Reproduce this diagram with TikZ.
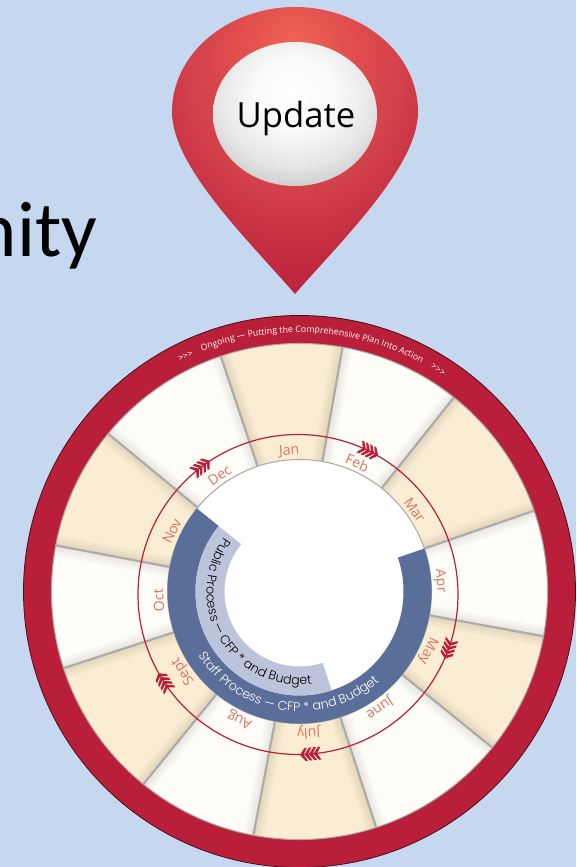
\documentclass[tikz,border=0pt]{standalone}
\usepackage{fontspec}
\setmainfont{Open Sans}
\setsansfont{Poppins Light}
\newfontfamily\titlefont{Carlito}
\usetikzlibrary{calc,decorations.text}

\definecolor{PageBlue}{HTML}{C5D8F0}
\definecolor{RingRed}{HTML}{BA1F3A}
\definecolor{CreamFill}{HTML}{FBEDD3}
\definecolor{PaperFill}{HTML}{FFFDF7}
\definecolor{EdgeGray}{HTML}{ACABA8}
\definecolor{MonthRed}{HTML}{DB7264}
\definecolor{StaffBlue}{HTML}{5A6E9A}
\definecolor{PublicBlue}{HTML}{BCC4DC}
\definecolor{PinA}{HTML}{F06453}
\definecolor{PinB}{HTML}{E2504E}
\definecolor{PinC}{HTML}{D2404A}
\definecolor{PinD}{HTML}{C22A40}
\definecolor{PinE}{HTML}{B81C3A}
\definecolor{BallA}{HTML}{FFFFFF}
\definecolor{BallB}{HTML}{FBFBFB}
\definecolor{BallC}{HTML}{E6E6E6}
\definecolor{BallD}{HTML}{D2D2D2}
\definecolor{BallE}{HTML}{C0C0C0}
\definecolor{BallF}{HTML}{B0B0B0}

\pgfdeclareradialshading{PinShade}{\pgfpoint{0bp}{19bp}}{
  color(0bp)=(PinA);
  color(10bp)=(PinB);
  color(22bp)=(PinC);
  color(32bp)=(PinD);
  color(44bp)=(PinE);
  color(100bp)=(PinE)}
\pgfdeclareradialshading{BallShade}{\pgfpoint{0bp}{8bp}}{
  color(0bp)=(BallA);
  color(12bp)=(BallB);
  color(24bp)=(BallC);
  color(30bp)=(BallD);
  color(34bp)=(BallE);
  color(40bp)=(BallF);
  color(100bp)=(BallF)}

\tikzset{
  CreamSector/.style={fill=CreamFill},
  PaperSector/.style={fill=PaperFill},
  SectorEdge/.style={draw=EdgeGray, line width=1.6pt},
  EdgeShadow/.style={draw=black, opacity=0.01, line width=#1},
  MonthLabel/.style={text=MonthRed, font=\fontsize{10.5}{12}\selectfont},
  pics/fletch/.style={code={
    \fill[RingRed] (10,0) -- (5,6.5) -- (2.5,6.5) -- (6.5,0) -- (2.5,-6.5) -- (5,-6.5) -- cycle;
    \fill[RingRed] (5.5,0) -- (0.5,6.5) -- (-2,6.5) -- (2,0) -- (-2,-6.5) -- (0.5,-6.5) -- cycle;
    \fill[RingRed] (1,0) -- (-4,6.5) -- (-6.5,6.5) -- (-2.5,0) -- (-6.5,-6.5) -- (-4,-6.5) -- cycle;
    \fill[RingRed] (-3.5,0) -- (-8.5,6.5) -- (-11,6.5) -- (-7,0) -- (-11,-6.5) -- (-8.5,-6.5) -- cycle;
  }},
}

\begin{document}
\begin{tikzpicture}[x=0.75pt, y=0.75pt]
  \useasboundingbox[fill=PageBlue] (0,0) rectangle (576,867);

  \node[anchor=base east, font=\titlefont\fontsize{59}{60}\selectfont] (title) at (102,610) {nity};

  % map pin
  \shade[shading=PinShade] (295,573) .. controls (250,625) and (172,700) .. (172,755)
    .. controls (172,815) and (230,860) .. (295,860)
    .. controls (360,860) and (418,815) .. (418,755)
    .. controls (418,700) and (340,625) .. (295,573) -- cycle;
  \shade[shading=BallShade] (295,753) ellipse [x radius=82, y radius=72];
  \node[font=\fontsize{26}{30}\selectfont] (update) at (296,748) {Update};

  \begin{scope}[shift={(299.5,275.5)}]
    \draw[draw=black!60!RingRed, fill=RingRed, line width=0.6pt] (0,0) circle [radius=276];

    % sectors
    \fill[CreamSector] (0,0) -- (80:248) arc [start angle=80, end angle=108.5, radius=248] -- cycle;
    \fill[PaperSector] (0,0) -- (51.5:248) arc [start angle=51.5, end angle=80, radius=248] -- cycle;
    \fill[CreamSector] (0,0) -- (19:248) arc [start angle=19, end angle=51.5, radius=248] -- cycle;
    \fill[PaperSector] (0,0) -- (-10.4:248) arc [start angle=-10.4, end angle=19, radius=248] -- cycle;
    \fill[CreamSector] (0,0) -- (-39:248) arc [start angle=-39, end angle=-10.4, radius=248] -- cycle;
    \fill[PaperSector] (0,0) -- (-72:248) arc [start angle=-72, end angle=-39, radius=248] -- cycle;
    \fill[CreamSector] (0,0) -- (-100.7:248) arc [start angle=-100.7, end angle=-72, radius=248] -- cycle;
    \fill[PaperSector] (0,0) -- (-129:248) arc [start angle=-129, end angle=-100.7, radius=248] -- cycle;
    \fill[CreamSector] (0,0) -- (-162:248) arc [start angle=-162, end angle=-129, radius=248] -- cycle;
    \fill[PaperSector] (0,0) -- (-190.7:248) arc [start angle=-190.7, end angle=-162, radius=248] -- cycle;
    \fill[CreamSector] (0,0) -- (-219.5:248) arc [start angle=-219.5, end angle=-190.7, radius=248] -- cycle;
    \fill[PaperSector] (0,0) -- (-251.5:248) arc [start angle=-251.5, end angle=-219.5, radius=248] -- cycle;

    % soft shadows beside the sector edges
    \begin{scope}
      \clip (0,0) circle [radius=248];
      \foreach \a in {80,51.5,19,-10.4,-39,-72,-100.7,-129,-162,-190.7,-219.5,-251.5}
        \foreach \w in {2pt,4pt,6pt,8pt,10pt,12pt,14pt,16pt}
          \draw[EdgeShadow=\w] (\a:132) -- (\a:248);
    \end{scope}
    \draw[draw=EdgeGray, line width=0.8pt] (0,0) circle [radius=248];

    \draw[SectorEdge] (80:132) -- (80:248);
    \draw[SectorEdge] (51.5:132) -- (51.5:248);
    \draw[SectorEdge] (19:132) -- (19:248);
    \draw[SectorEdge] (-10.4:132) -- (-10.4:248);
    \draw[SectorEdge] (-39:132) -- (-39:248);
    \draw[SectorEdge] (-72:132) -- (-72:248);
    \draw[SectorEdge] (-100.7:132) -- (-100.7:248);
    \draw[SectorEdge] (-129:132) -- (-129:248);
    \draw[SectorEdge] (-162:132) -- (-162:248);
    \draw[SectorEdge] (-190.7:132) -- (-190.7:248);
    \draw[SectorEdge] (-219.5:132) -- (-219.5:248);
    \draw[SectorEdge] (-251.5:132) -- (-251.5:248);

    \draw[draw=EdgeGray, line width=0.8pt, fill=white] (0,0) circle [radius=132];

    % staff and public bands
    \fill[StaffBlue] (19:132) arc [start angle=19, end angle=-219, radius=132]
      -- (-219:104) arc [start angle=-219, end angle=19, radius=104] -- cycle;
    \fill[PublicBlue] (141:104) arc [start angle=141, end angle=288, radius=104]
      -- (288:75) arc [start angle=288, end angle=141, radius=75] -- cycle;

    % month names
    \node[MonthLabel, rotate=4.25] (jan) at (94.25:141) {Jan};
    \node[MonthLabel, rotate=-24.25] (feb) at (65.75:141) {Feb};
    \node[MonthLabel, rotate=-54.75] (mar) at (35.25:141) {Mar};
    \node[MonthLabel, rotate=-85.7] (apr) at (4.3:141) {Apr};
    \node[MonthLabel, rotate=-114.7] (may) at (-24.7:141) {May};
    \node[MonthLabel, rotate=-145.5] (june) at (-55.5:141) {June};
    \node[MonthLabel, rotate=-176.3] (july) at (-86.3:141) {July};
    \node[MonthLabel, rotate=155] (aug) at (-115:141) {Aug};
    \node[MonthLabel, rotate=124.5] (sept) at (-145.5:141) {Sept};
    \node[MonthLabel, rotate=93.6] (oct) at (183.6:141) {Oct};
    \node[MonthLabel, rotate=64.7] (nov) at (154.7:141) {Nov};
    \node[MonthLabel, rotate=34.5] (dec) at (124.5:141) {Dec};

    % texts round the bands
    \path[decorate, decoration={text along path, text align=center,
        text={|\fontsize{6.6}{7}\selectfont\color{PaperFill}|>>>}}]
      (125:259) arc [start angle=125, end angle=106.6, radius=259];
    \path[decorate, decoration={text along path, text align=center,
        text={|\fontsize{6.6}{7}\selectfont\color{PaperFill}|Ongoing — Putting the Comprehensive Plan Into Action}}]
      (125:259) arc [start angle=125, end angle=49, radius=259];
    \path[decorate, decoration={text along path, text align=center,
        text={|\fontsize{6.6}{7}\selectfont\color{PaperFill}|>>>}}]
      (67:259) arc [start angle=67, end angle=49, radius=259];
    \path[decorate, decoration={text along path, text align=center,
        text={|\sffamily\fontsize{9.5}{10}\selectfont\color{white}|Staff Process — CFP * and Budget}}]
      (198:120) arc [start angle=198, end angle=326, radius=120];
    \path[decorate, decoration={text along path, text align=center,
        text={|\sffamily\fontsize{9.5}{10}\selectfont\color{black}|Public Process — CFP * and Budget}}]
      (133:93) arc [start angle=133, end angle=289, radius=93];

    % arrow circle
    \draw[RingRed, line width=0.9pt] (-1.5,-3) circle [radius=160];
    \pic[rotate=37] at ($(-1.5,-3)+(127:160)$) {fletch};
    \pic[rotate=-26] at ($(-1.5,-3)+(63.6:160)$) {fletch};
    \pic[rotate=-110] at ($(-1.5,-3)+(-20:160)$) {fletch};
    \pic[rotate=-175] at ($(-1.5,-3)+(-85.7:160)$) {fletch};
    \pic[rotate=123] at ($(-1.5,-3)+(213:160)$) {fletch};
  \end{scope}
\end{tikzpicture}
\end{document}
